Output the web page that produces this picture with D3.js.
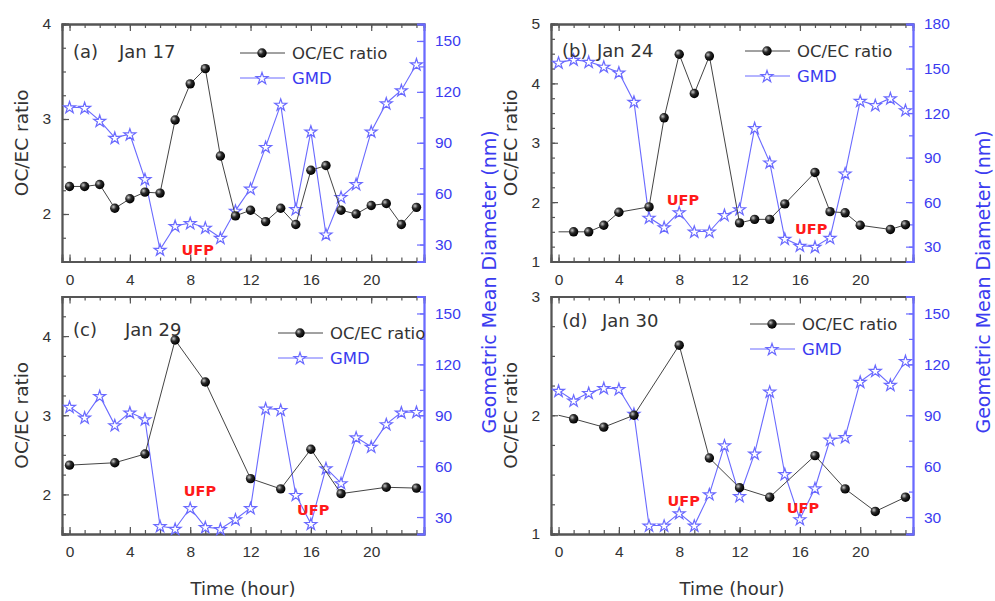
<!DOCTYPE html>
<html lang="en">
<head>
<meta charset="UTF-8">
<title>OC/EC ratio and GMD</title>
<script src="https://cdnjs.cloudflare.com/ajax/libs/d3/7.8.5/d3.min.js"></script>
<style>
  body { margin: 0; padding: 0; background: #fff; }
  svg { font-family: "DejaVu Sans", Verdana, sans-serif; }
</style>
</head>
<body>
<svg id="chart" width="995" height="601"></svg>
<script>
// ---- data ----
const hoursAll = [0,1,2,3,4,5,6,7,8,9,10,11,12,13,14,15,16,17,18,19,20,21,22,23];
const xTickLabels = [0,4,8,12,16,20];

// (a) Jan 17
const ocHoursA = hoursAll;
const ocA = [2.29,2.29,2.31,2.06,2.16,2.23,2.22,2.99,3.37,3.53,2.61,1.98,2.04,1.92,2.06,1.89,2.46,2.51,2.04,2.00,2.09,2.11,1.89,2.07];
const gmdA = [111,110.6,103,93,95,68.6,27,41,42.7,40,34,50,63,87.6,112.5,51,96.7,36,58,65.7,96.7,113.3,121,136.3];

// (b) Jan 24
const ocHoursB = [0,1,2,3,4,6,7,8,9,10,12,13,14,15,17,18,19,20,22,23];
const ocB = [1.5,1.5,1.5,1.61,1.83,1.92,3.42,4.49,3.83,4.46,1.65,1.71,1.71,1.97,2.5,1.84,1.82,1.61,1.54,1.62];
const gmdB = [154,156,154.6,151.3,147.4,127.7,49.6,43.1,53.2,40.2,40.2,51.4,55.3,110,86.8,35.4,30.7,30,36,79.4,128.3,125.4,130,122];

// (c) Jan 29
const ocHoursC = [0,3,5,7,9,12,14,16,18,21,23];
const ocC = [2.37,2.40,2.51,3.95,3.42,2.20,2.07,2.57,2.01,2.09,2.08];
const gmdC = [95,88.7,101.4,84.2,91.7,87.7,24.7,23.1,35.3,24.1,23,28.7,35.3,94,93.2,43.1,26,58.8,50,77,71.5,84.8,91.7,92];

// (d) Jan 30
const ocHoursD = [0,1,3,5,8,10,12,14,17,19,21,23];
const ocD = [2.0,1.97,1.9,2.0,2.59,1.64,1.39,1.31,1.66,1.38,1.19,1.31];
const gmdD = [104.5,98.7,103.2,106.1,105.5,90.9,25,25,32.3,25,43.5,72.3,42.4,67.5,104,55.4,28.8,47,75.7,77.2,109.8,116.2,108,122];

// left / right axis tick labels
const leftTicksA = [2,3,4], leftTicksB = [1,2,3,4,5], leftTicksC = [2,3,4], leftTicksD = [1,2,3];
const rightTicksA = [30,60,90,120,150], rightTicksB = [30,60,90,120,150,180];

const panels = [
  {tag:"(a)", date:"Jan 17", x0:62,  y0:24,    ocH:ocHoursA, oc:ocA, gmd:gmdA,
   left:[1.5,4], lt:leftTicksA, right:[20,160], rt:rightTicksA, firstDot:true,
   ufp:[[8.5,1.62]], leg:[178,29], tagY:27, dateX:57},
  {tag:"(b)", date:"Jan 24", x0:551, y0:24,    ocH:ocHoursB, oc:ocB, gmd:gmdB,
   left:[1,5], lt:leftTicksB, right:[20,180], rt:rightTicksB, firstDot:false,
   ufp:[[8.25,2.04],[16.75,1.55]], leg:[194,27], tagY:26, dateX:46},
  {tag:"(c)", date:"Jan 29", x0:62,  y0:296.5, ocH:ocHoursC, oc:ocC, gmd:gmdC,
   left:[1.5,4.5], lt:leftTicksC, right:[20,160], rt:rightTicksA, firstDot:true,
   ufp:[[8.65,2.04],[16.15,1.80]], leg:[216,36.5], tagY:32.5, dateX:63},
  {tag:"(d)", date:"Jan 30", x0:551, y0:296.5, ocH:ocHoursD, oc:ocD, gmd:gmdD,
   left:[1,3], lt:leftTicksD, right:[20,160], rt:rightTicksA, firstDot:false,
   ufp:[[8.3,1.28],[16.2,1.22]], leg:[199,27.5], tagY:23.5, dateX:51}
];

const W = 362, H = 237.5;
const blueText = "#3b3bf0", blueLine = "#6a6aff", frameCol = "#555", ocCol = "#444";

const svg = d3.select("#chart");

// shaded ball marker
const defs = svg.append("defs");
const grad = defs.append("radialGradient").attr("id", "ball")
  .attr("cx", "35%").attr("cy", "35%").attr("r", "65%");
grad.append("stop").attr("offset", "0%").attr("stop-color", "#c8c8c8");
grad.append("stop").attr("offset", "45%").attr("stop-color", "#2a2a2a");
grad.append("stop").attr("offset", "100%").attr("stop-color", "#000");

const star = d3.symbol().type(d3.symbolStar).size(44);

panels.forEach(p => {
  const g = svg.append("g").attr("transform", `translate(${p.x0},${p.y0})`);
  const x = d3.scaleLinear().domain([-0.5, 23.5]).range([0, W]);
  const yL = d3.scaleLinear().domain(p.left).range([H, 0]);
  const yR = d3.scaleLinear().domain(p.right).range([H, 0]);

  // x axes (bottom labelled, top mirrored), ticks inward
  const xMinor = d3.range(0, 24);
  g.append("g").attr("transform", `translate(0,${H})`)
    .call(d3.axisBottom(x).tickValues(xMinor).tickSize(-4).tickFormat(""));
  g.append("g").attr("transform", `translate(0,${H})`)
    .call(d3.axisBottom(x).tickValues(xTickLabels).tickSize(-7).tickPadding(12))
    .call(a => a.selectAll("text").attr("font-size", 15.5).attr("fill", "#333"));
  g.append("g").call(d3.axisTop(x).tickValues(xMinor).tickSize(-4).tickFormat(""));
  g.append("g").call(d3.axisTop(x).tickValues(xTickLabels).tickSize(-7).tickFormat(""));

  // left axis
  const lMinor = d3.range(p.left[0], p.left[1] + 0.001, 0.25);
  g.append("g").call(d3.axisLeft(yL).tickValues(lMinor).tickSize(-4).tickFormat(""));
  g.append("g").call(d3.axisLeft(yL).tickValues(p.lt).tickSize(-7).tickPadding(11).tickFormat(d3.format("d")))
    .call(a => a.selectAll("text").attr("font-size", 15.5).attr("fill", "#333"));

  // right axis (blue)
  const rMinor = d3.range(30, p.right[1] + 0.1, 15);
  const rg1 = g.append("g").attr("transform", `translate(${W},0)`)
    .call(d3.axisRight(yR).tickValues(rMinor).tickSize(-4).tickFormat(""));
  const rg2 = g.append("g").attr("transform", `translate(${W},0)`)
    .call(d3.axisRight(yR).tickValues(p.rt).tickSize(-7).tickPadding(11))
    .call(a => a.selectAll("text").attr("font-size", 15.5).attr("fill", blueText));

  g.selectAll(".domain").attr("stroke", frameCol).attr("stroke-width", 1.8);
  g.selectAll(".tick line").attr("stroke", frameCol).attr("stroke-width", 1.2);
  [rg1, rg2].forEach(a => {
    a.selectAll(".domain").attr("stroke", blueLine).attr("stroke-width", 1.8);
    a.selectAll(".tick line").attr("stroke", blueLine);
  });

  // GMD series
  const gmdPts = hoursAll.map((h, i) => [h, p.gmd[i]]);
  g.append("path").datum(gmdPts)
    .attr("fill", "none").attr("stroke", blueLine).attr("stroke-width", 1.1)
    .attr("d", d3.line().x(d => x(d[0])).y(d => yR(d[1])));
  g.selectAll(".star").data(gmdPts).join("path")
    .attr("transform", d => `translate(${x(d[0])},${yR(d[1]) + 0.6})`)
    .attr("d", star).attr("fill", "#fff").attr("stroke", blueLine).attr("stroke-width", 1.2);

  // OC/EC series
  const ocPts = p.ocH.map((h, i) => [h, p.oc[i]]);
  g.append("path").datum(ocPts)
    .attr("fill", "none").attr("stroke", ocCol).attr("stroke-width", 1)
    .attr("d", d3.line().x(d => x(d[0])).y(d => yL(d[1])));
  g.selectAll(".ball").data(p.firstDot ? ocPts : ocPts.slice(1)).join("circle")
    .attr("cx", d => x(d[0])).attr("cy", d => yL(d[1])).attr("r", 4.7)
    .attr("fill", "url(#ball)");

  // UFP notes
  p.ufp.forEach(u => {
    g.append("text").attr("x", x(u[0])).attr("y", yL(u[1]))
      .attr("text-anchor", "middle").attr("dominant-baseline", "central")
      .attr("font-size", 14.5).attr("font-weight", "bold").attr("fill", "#ff1a1a")
      .text("UFP");
  });

  // panel tag
  g.append("text").attr("x", 11).attr("y", p.tagY).attr("dominant-baseline", "central")
    .attr("font-size", 18).attr("fill", "#333").text(p.tag);
  g.append("text").attr("x", p.dateX).attr("y", p.tagY).attr("dominant-baseline", "central")
    .attr("font-size", 18).attr("fill", "#333").text(p.date);

  // legend
  const [lx, ly] = p.leg;
  const lg = g.append("g").attr("transform", `translate(${lx},${ly})`);
  lg.append("line").attr("x1", 0).attr("x2", 45).attr("y1", 0).attr("y2", 0).attr("stroke", ocCol);
  lg.append("circle").attr("cx", 22).attr("cy", 0).attr("r", 4.7).attr("fill", "url(#ball)");
  lg.append("text").attr("x", 52).attr("y", 0).attr("dominant-baseline", "central")
    .attr("font-size", 16.5).attr("fill", "#333").text("OC/EC ratio");
  lg.append("line").attr("x1", 0).attr("x2", 45).attr("y1", 25).attr("y2", 25).attr("stroke", blueLine);
  lg.append("path").attr("transform", "translate(22,25.6)").attr("d", star)
    .attr("fill", "#fff").attr("stroke", blueLine).attr("stroke-width", 1.2);
  lg.append("text").attr("x", 52).attr("y", 25).attr("dominant-baseline", "central")
    .attr("font-size", 16.5).attr("fill", blueText).text("GMD");

  // left axis title
  svg.append("text")
    .attr("transform", `translate(${p.x0 - 41},${p.y0 + H / 2}) rotate(-90)`)
    .attr("text-anchor", "middle").attr("dominant-baseline", "central")
    .attr("font-size", 18.5).attr("fill", "#333").text("OC/EC ratio");
});

// shared titles
[[489, 282], [983, 282]].forEach(([tx, ty]) => {
  svg.append("text").attr("transform", `translate(${tx},${ty}) rotate(-90)`)
    .attr("text-anchor", "middle").attr("dominant-baseline", "central")
    .attr("font-size", 19).attr("fill", blueText).text("Geometric Mean Diameter (nm)");
});
[243, 732].forEach(tx => {
  svg.append("text").attr("x", tx).attr("y", 588).attr("text-anchor", "middle")
    .attr("dominant-baseline", "central").attr("font-size", 18).attr("fill", "#333")
    .text("Time (hour)");
});
</script>
</body>
</html>
